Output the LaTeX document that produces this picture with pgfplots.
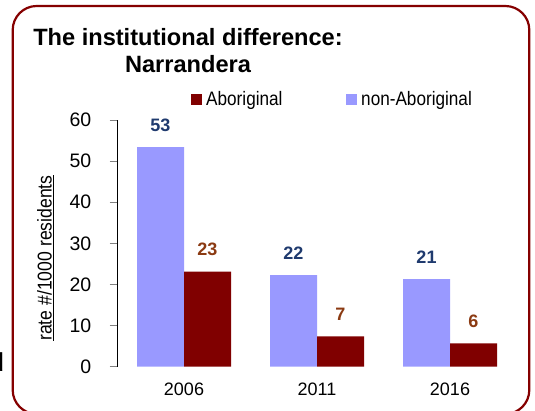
\documentclass[border=0pt]{standalone}
\usepackage{pgfplots}
\pgfplotsset{compat=1.18}
\usepackage{pgfplotstable}
\usepackage{fontspec}
\setmainfont{Liberation Sans}
\newfontfamily\condfont[FakeStretch=0.88]{Liberation Sans}
\definecolor{nonab}{HTML}{9999FF}
\definecolor{abo}{HTML}{800000}
\definecolor{lblblue}{HTML}{1F3A6E}
\definecolor{lblbrown}{HTML}{8B3A12}
\definecolor{frame}{HTML}{850000}

\pgfplotstableread{
x y lbl
0 53.4 53
1 22.3 22
2 21.3 21
}\nonabtab
\pgfplotstableread{
x y lbl
0 23.1 23
1 7.4 7
2 5.7 6
}\abotab

\begin{document}
\begin{tikzpicture}[x=1pt,y=1pt]
\useasboundingbox (0,0) rectangle (535,411);
\draw[frame, line width=2.2pt, rounded corners=24pt] (12.7,-3) rectangle (529.3,405);
% title
\node[font=\bfseries\fontsize{23.6}{27}\selectfont, anchor=base, inner sep=0] at (188,365) {The institutional difference:};
\node[font=\bfseries\fontsize{23.6}{27}\selectfont, anchor=base, inner sep=0] at (188,338) {Narrandera};
% cut-off fragment at left edge
\node[font=\fontsize{26}{30}\selectfont, anchor=base west, inner sep=0] at (-10.5,39) {d};
\begin{axis}[
  at={(117.5pt,44.3pt)}, anchor=south west,
  scale only axis, width=399pt, height=246.7pt,
  xmin=-0.5, xmax=2.5, ymin=0, ymax=60,
  axis lines*=left,
  x axis line style={draw=none},
  y axis line style={black, line width=0.9pt},
  xtick={0,1,2}, xticklabels={2006,2011,2016},
  ytick={0,10,...,60},
  tick align=outside, major tick length=8pt,
  ytick style={gray, line width=0.9pt},
  xtick style={draw=none},
  /pgf/number format/assume math mode=true,
  yticklabel style={font=\fontsize{19.5}{22}\selectfont, inner sep=0, xshift=-18pt},
  xticklabel style={font=\fontsize{18}{21}\selectfont, inner sep=0, yshift=-8.5pt},
  ybar=0pt, bar width=47pt,
  clip=false,
  reverse legend,
  legend columns=2,
  legend style={at={(axis description cs:0.1842,1.0831)}, anchor=west, draw=none, fill=none, inner sep=0pt,
    font=\condfont\fontsize{19.5}{22}\selectfont,
    nodes={inner xsep=4pt, inner ysep=0pt},
    /tikz/every even column/.append style={column sep=59.7pt}},
  legend image code/.code={\fill[#1,draw=none] (0pt,-5.5pt) rectangle (11pt,5.5pt);},
]
\addplot[fill=nonab, draw=none,
  nodes near coords, point meta=explicit symbolic,
  every node near coord/.append style={text=lblblue, font=\bfseries\fontsize{18}{21}\selectfont, anchor=south, inner sep=0, yshift=15.5pt}]
  table[x=x, y=y, meta=lbl] {\nonabtab};
\addlegendentry{non-Aboriginal}
\addplot[fill=abo, draw=none,
  nodes near coords, point meta=explicit symbolic,
  every node near coord/.append style={text=lblbrown, font=\bfseries\fontsize{18}{21}\selectfont, anchor=south, inner sep=0, yshift=15.5pt}]
  table[x=x, y=y, meta=lbl] {\abotab};
\addlegendentry{Aboriginal}
\end{axis}
% y axis label
\node[rotate=90, anchor=base, inner sep=0, font=\condfont\fontsize{20}{23}\selectfont] (yl) at (51.7,153) {rate \#/1000 residents};
\draw[black, line width=1.5pt] ([xshift=1.8pt]yl.base west) -- ([xshift=1.8pt]yl.base east);
\end{tikzpicture}
\end{document}
